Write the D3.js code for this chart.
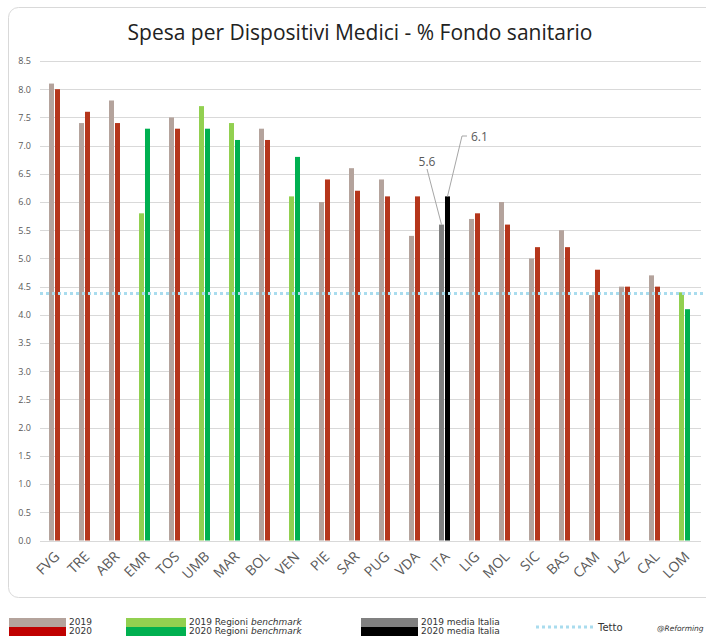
<!DOCTYPE html>
<html><head><meta charset="utf-8">
<script src="https://cdn.jsdelivr.net/npm/d3@7"></script>
<style>body{margin:0;background:#fff;}svg{display:block;}</style>
</head><body>
<svg id="c" width="706" height="636"></svg>
<script>
const categories = ["FVG","TRE","ABR","EMR","TOS","UMB","MAR","BOL","VEN","PIE","SAR","PUG","VDA","ITA","LIG","MOL","SIC","BAS","CAM","LAZ","CAL","LOM"];
const values2019 = [8.1,7.4,7.8,5.8,7.5,7.7,7.4,7.3,6.1,6.0,6.6,6.4,5.4,5.6,5.7,6.0,5.0,5.5,4.35,4.5,4.7,4.4];
const values2020 = [8.0,7.6,7.4,7.3,7.3,7.3,7.1,7.1,6.8,6.4,6.2,6.1,6.1,6.1,5.8,5.6,5.2,5.2,4.8,4.5,4.5,4.1];
const groupType = ["std","std","std","bench","std","bench","bench","std","bench","std","std","std","std","ita","std","std","std","std","std","std","std","bench"];
const yTicks = [0,0.5,1,1.5,2,2.5,3,3.5,4,4.5,5,5.5,6,6.5,7,7.5,8,8.5];
const tetto = 4.38;
const title = "Spesa per Dispositivi Medici - % Fondo sanitario";

const colors = {
  std:["#b4a39c","#b5361b"],
  bench:["#92d050","#00b050"],
  ita:["#808080","#000000"]
};

const svg = d3.select("#c");
const font = "'Open Sans', 'Noto Sans', sans-serif";

// frame
svg.append("rect").attr("x",8.5).attr("y",7.5).attr("width",720).attr("height",590)
  .attr("rx",10).attr("fill","#fff").attr("stroke","#d9d9d9");

svg.append("text").attr("x",360).attr("y",40).attr("text-anchor","middle")
  .attr("font-family",font).attr("font-size",21).attr("fill","#222").text(title);

const x = d3.scaleBand().domain(categories).range([40,700]).padding(0);
const y = d3.scaleLinear().domain([0,8.5]).range([540.5,61]);

// grid
const grid = svg.append("g");
grid.selectAll("line").data(yTicks).join("line")
  .attr("x1",40).attr("x2",701)
  .attr("y1",d=>Math.round(y(d))+0.5).attr("y2",d=>Math.round(y(d))+0.5)
  .attr("stroke","#d9d9d9").attr("stroke-width",1);

// y axis labels via d3 axis
const yAxis = d3.axisLeft(y).tickValues(yTicks).tickFormat(d3.format(".1f")).tickSize(0).tickPadding(0);
const ya = svg.append("g").attr("transform","translate(31,0)").call(yAxis);
ya.select(".domain").remove();
ya.selectAll("text").attr("font-family",font).attr("font-size",9).attr("fill","#595959");

// bars
const g = svg.append("g");
categories.forEach((c,i)=>{
  const cx = x(c)+x.bandwidth()/2;
  const col = colors[groupType[i]];
  g.append("rect").attr("x",cx-6).attr("width",5)
    .attr("y",y(values2019[i])).attr("height",y(0)-y(values2019[i])).attr("fill",col[0]);
  g.append("rect").attr("x",cx).attr("width",5)
    .attr("y",y(values2020[i])).attr("height",y(0)-y(values2020[i])).attr("fill",col[1]);
});

// tetto line
svg.append("line").attr("x1",40).attr("x2",706).attr("y1",y(tetto)).attr("y2",y(tetto))
  .attr("stroke","#a9dcee").attr("stroke-width",3).attr("stroke-dasharray","3,3");

// x labels
const xAxis = d3.axisBottom(x).tickSize(0).tickPadding(0);
const xa = svg.append("g").attr("transform","translate(0,554)").call(xAxis);
xa.select(".domain").remove();
xa.selectAll("text").attr("font-family",font).attr("font-size",14).attr("fill","#595959")
  .attr("text-anchor","end").attr("dy","0.35em")
  .attr("transform","translate(2,0) rotate(-45)");

// annotations for ITA
const iIta = categories.indexOf("ITA");
const itaC = x("ITA")+x.bandwidth()/2;
svg.append("path").attr("d",`M${itaC-18},169 L${itaC-3.5},${y(values2019[iIta])}`)
  .attr("stroke","#a6a6a6").attr("fill","none");
svg.append("path").attr("d",`M${itaC+22},136 L${itaC+17},136 L${itaC+2.5},${y(values2020[iIta])}`)
  .attr("stroke","#a6a6a6").attr("fill","none");
svg.append("text").attr("x",itaC-18).attr("y",166).attr("text-anchor","middle")
  .attr("font-family",font).attr("font-size",12).attr("fill","#595959").text(values2019[iIta].toFixed(1));
svg.append("text").attr("x",itaC+26).attr("y",141).attr("text-anchor","start")
  .attr("font-family",font).attr("font-size",12).attr("fill","#595959").text(values2020[iIta].toFixed(1));

// legend
const lf = "'DejaVu Sans', sans-serif";
function sw(x0,w,c1,c2,t1,t2,italic){
  svg.append("rect").attr("x",x0).attr("y",618).attr("width",w).attr("height",9).attr("fill",c1);
  svg.append("rect").attr("x",x0).attr("y",627).attr("width",w).attr("height",9).attr("fill",c2);
  [t1,t2].forEach((t,k)=>{
    const tx = svg.append("text").attr("x",x0+w+3).attr("y",625+k*9)
      .attr("font-family",lf).attr("font-size",9).attr("fill","#333");
    tx.append("tspan").text(t);
    if(italic) tx.append("tspan").attr("font-style","italic").text(" "+italic);
  });
}
sw(9,57,"#b4a39c","#c00000","2019","2020");
sw(126,60,"#92d050","#00b050","2019 Regioni","2020 Regioni","benchmark");
sw(361,57,"#808080","#000000","2019 media Italia","2020 media Italia");
svg.append("line").attr("x1",536).attr("x2",596).attr("y1",627).attr("y2",627)
  .attr("stroke","#a9dcee").attr("stroke-width",3).attr("stroke-dasharray","3,3");
svg.append("text").attr("x",598).attr("y",631).attr("font-family",lf).attr("font-size",10).attr("fill","#333").text("Tetto");
svg.append("text").attr("x",657).attr("y",631).attr("font-family",lf).attr("font-size",7.5).attr("font-style","italic").attr("fill","#333").text("@Reforming");
</script>
</body></html>
